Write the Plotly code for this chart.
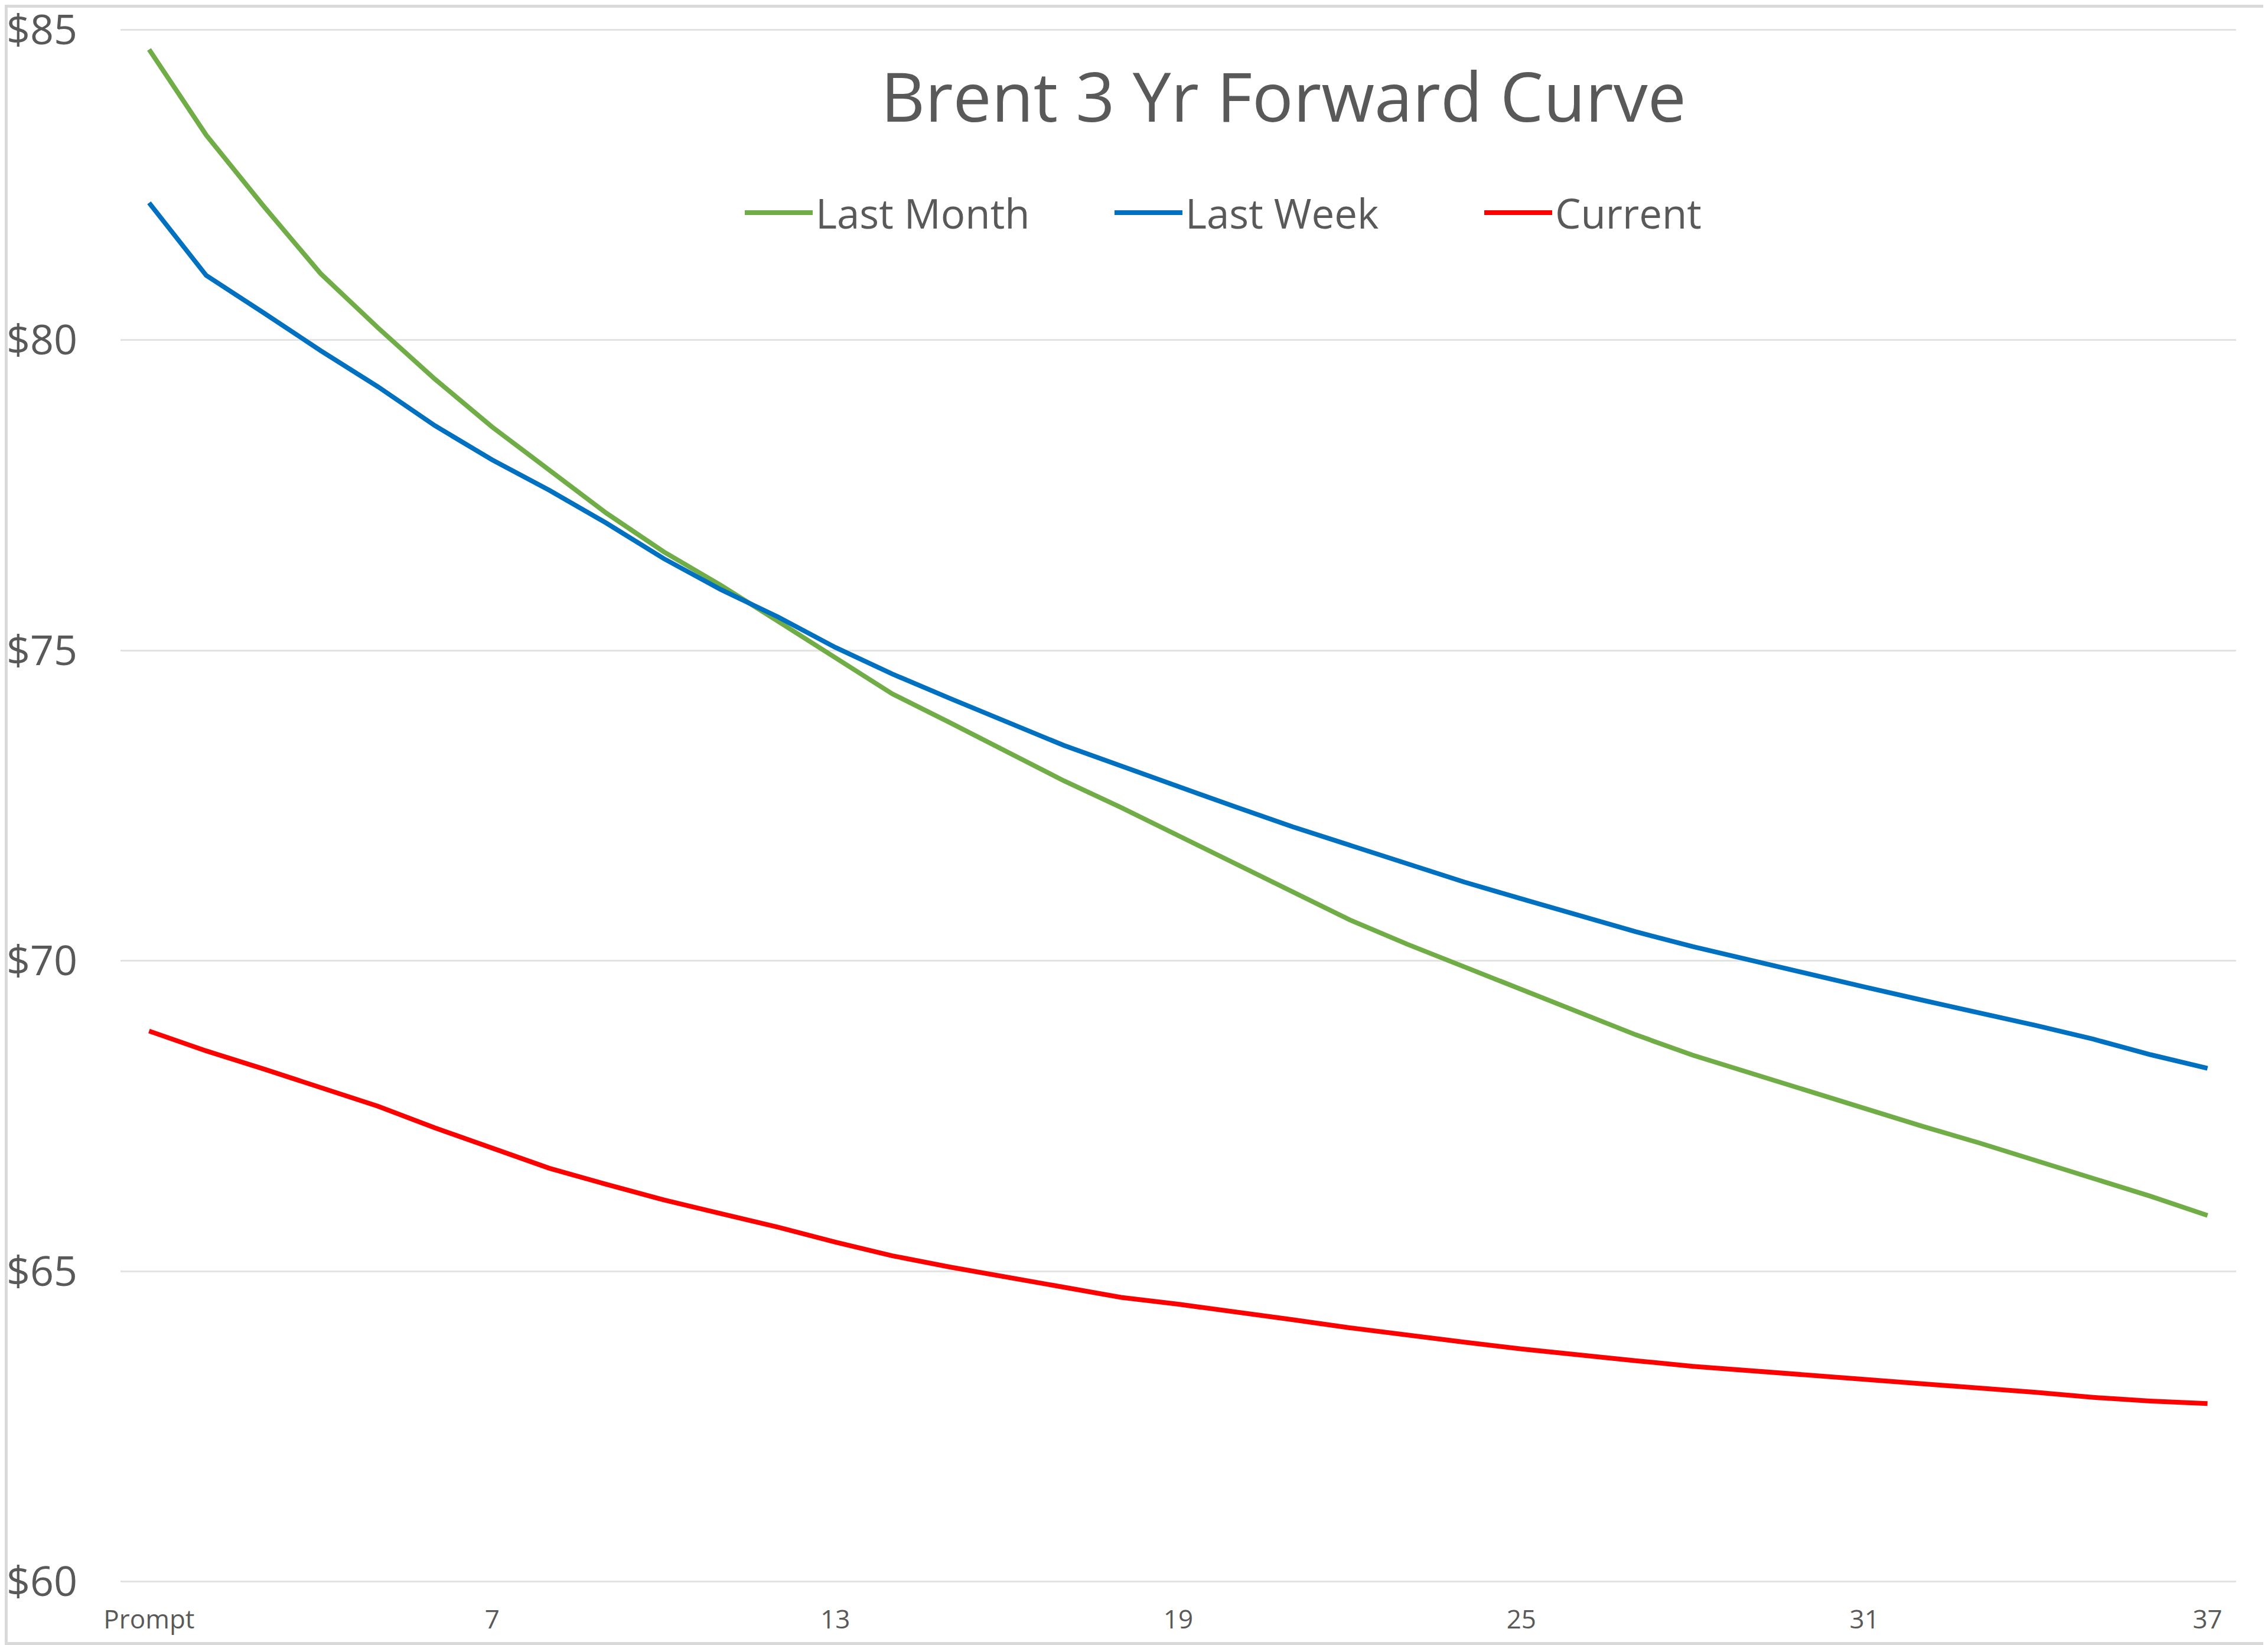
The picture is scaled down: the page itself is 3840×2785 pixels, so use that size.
import plotly.graph_objects as go

# ---- data ----
months = list(range(1, 38))
x_tick_vals = [1, 7, 13, 19, 25, 31, 37]
x_tick_text = ["Prompt", "7", "13", "19", "25", "31", "37"]
y_tick_vals = [60, 65, 70, 75, 80, 85]
y_tick_text = ["$60", "$65", "$70", "$75", "$80", "$85"]

last_month = [84.68, 83.30, 82.16, 81.07, 80.20, 79.37, 78.60, 77.90, 77.21, 76.59,
              76.05, 75.47, 74.88, 74.30, 73.84, 73.36, 72.90, 72.47, 72.02, 71.56,
              71.10, 70.66, 70.27, 69.91, 69.55, 69.18, 68.81, 68.48, 68.19, 67.90,
              67.62, 67.34, 67.07, 66.78, 66.50, 66.21, 65.90]
last_week = [82.21, 81.04, 80.44, 79.83, 79.25, 78.62, 78.07, 77.58, 77.05, 76.48,
             75.98, 75.54, 75.05, 74.62, 74.23, 73.84, 73.47, 73.14, 72.80, 72.48,
             72.16, 71.86, 71.56, 71.27, 71.00, 70.74, 70.47, 70.23, 70.01, 69.79,
             69.58, 69.37, 69.17, 68.96, 68.74, 68.49, 68.27]
current = [68.87, 68.55, 68.26, 67.95, 67.66, 67.31, 66.98, 66.66, 66.40, 66.15,
           65.93, 65.71, 65.47, 65.25, 65.07, 64.91, 64.74, 64.58, 64.47, 64.35,
           64.22, 64.09, 63.97, 63.86, 63.75, 63.65, 63.56, 63.47, 63.40, 63.33,
           63.27, 63.20, 63.12, 63.05, 62.97, 62.91, 62.87]

series_names = ["Last Month", "Last Week", "Current"]
series_colors = ["#70AD47", "#0070C0", "#FF0000"]

# ---- layout constants (page pixels; the page body has an 8px margin) ----
OFF = 8
PAGE_W, PAGE_H = 3840, 2785
W, H = PAGE_W - OFF, PAGE_H - OFF
Y_LO, Y_HI, Y_PAD = 60, 85, 0.02
SCALE = (2678 - 50) / (Y_HI - Y_LO)           # px per dollar
PL, PR = 204, 3786
PT = 50 - Y_PAD * SCALE
PB = 2678 + Y_PAD * SCALE
ML, MT = PL - OFF, PT - OFF
MR, MB = PAGE_W - PR, PAGE_H - PB
PW, PH = W - ML - MR, H - MT - MB
FONT = "Open Sans"
TXT = "#595959"

fig = go.Figure()
for name, vals, col in zip(series_names, [last_month, last_week, current], series_colors):
    fig.add_trace(go.Scatter(x=months, y=vals, name=name, mode="lines",
                             line=dict(color=col, width=8)))

def px_x(p):
    return (p - OFF - ML) / PW

def px_y(p):
    return 1 - (p - OFF - MT) / PH

fig.update_layout(
    width=W, height=H,
    margin=dict(l=ML, r=MR, t=MT, b=MB, autoexpand=False),
    paper_bgcolor="white", plot_bgcolor="white",
    font=dict(family=FONT, color=TXT),
    title=dict(text="Brent 3 Yr Forward Curve", font=dict(size=116, color=TXT, family=FONT),
               x=px_x(2173), xref="paper", xanchor="center",
               y=1 - (165 - OFF) / H, yref="container", yanchor="middle"),
    legend=dict(orientation="h", x=px_x(1256), xanchor="left", y=px_y(360), yanchor="middle",
                font=dict(size=69, color=TXT, family=FONT), itemwidth=115,
                entrywidth=496, bgcolor="rgba(0,0,0,0)"),
    showlegend=True,
    xaxis=dict(range=[0.5, 37.5], tickmode="array", tickvals=x_tick_vals, ticktext=x_tick_text,
               showgrid=False, zeroline=False, showline=False, ticks="", automargin=False,
               ticklabeloverflow="allow",
               tickfont=dict(size=44, color=TXT, family=FONT), ticklabelstandoff=32),
    yaxis=dict(range=[Y_LO - Y_PAD, Y_HI + Y_PAD], tickmode="array",
               tickvals=y_tick_vals, ticktext=y_tick_text, showgrid=True,
               gridcolor="#E3E3E3", gridwidth=3, zeroline=False, showline=False, ticks="",
               automargin=False, ticklabeloverflow="allow",
               tickfont=dict(size=70, color=TXT, family=FONT), ticklabelstandoff=72),
    shapes=[dict(type="rect", xref="paper", yref="paper",
                 x0=px_x(OFF + 2.5), x1=px_x(PAGE_W - 2.5),
                 y0=px_y(PAGE_H - 2.5), y1=px_y(OFF + 2.5),
                 line=dict(color="#D9D9D9", width=5), fillcolor="rgba(0,0,0,0)", layer="above")],
)

fig.write_html("out.html")
